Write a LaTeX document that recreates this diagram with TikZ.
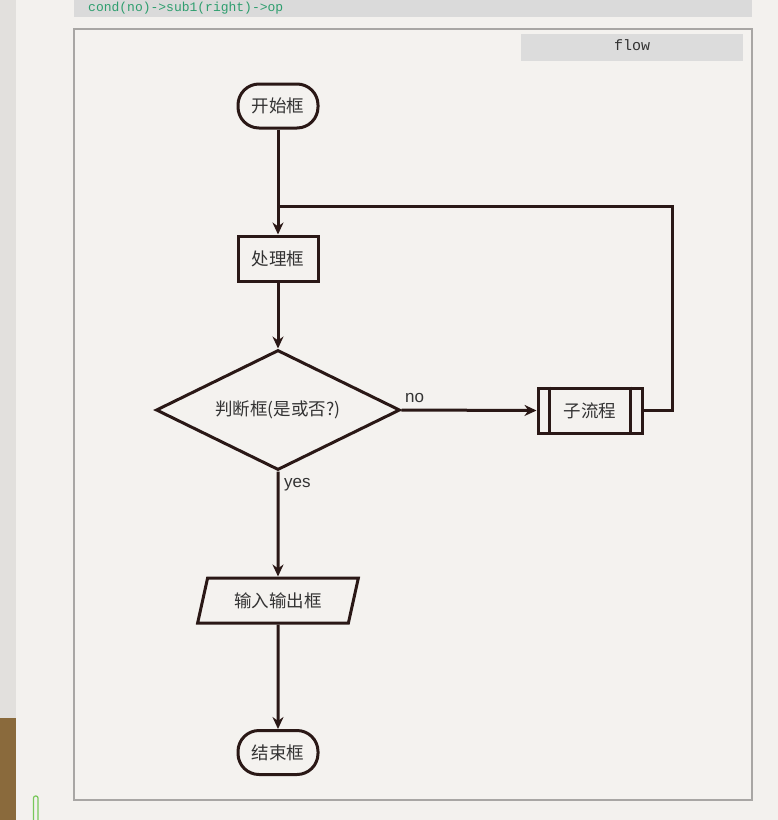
\documentclass[tikz,border=0pt]{standalone}
\usepackage{fontspec}
\setmainfont{Noto Sans CJK SC}
\newfontfamily\latinsans{Liberation Sans}
\setmonofont{Liberation Mono}
\usetikzlibrary{arrows.meta,shapes.geometric}
\definecolor{pagebg}{HTML}{F3F1EE}
\definecolor{panelbg}{HTML}{F4F2EF}
\definecolor{ink}{HTML}{2A1816}
\definecolor{txt}{HTML}{333333}
\definecolor{btn}{HTML}{DCDCDC}
\definecolor{codegreen}{HTML}{2E9E6E}
\definecolor{wood}{HTML}{8A6A3C}
\definecolor{sidebar}{HTML}{E2E0DD}
\definecolor{topbar}{HTML}{DADADA}
\definecolor{frame}{HTML}{A8A6A4}
\definecolor{lightgreen}{HTML}{78C85A}
\tikzset{
  shp/.style={draw=ink, line width=3pt, text=txt, font=\fontsize{17.5}{20}\selectfont, inner sep=0pt},
  term/.style={shp, rectangle, rounded corners=21pt, minimum width=80pt, minimum height=44pt},
  procbox/.style={shp, rectangle, minimum width=80pt, minimum height=45pt},
  decis/.style={shp, diamond, aspect=2.03, minimum width=244pt, minimum height=120pt},
  iobox/.style={shp, trapezium, trapezium left angle=69, trapezium right angle=111, trapezium stretches=true, minimum width=161pt, minimum height=45pt},
  subbox/.style={shp, rectangle, minimum width=104pt, minimum height=45pt},
  conn/.style={draw=ink, line width=3pt},
  arr/.style={conn, -{Stealth[length=12pt,width=11pt]}},
  lbl/.style={text=txt, font=\latinsans\fontsize{17}{19}\selectfont, inner sep=0pt}
}
\begin{document}
\begin{tikzpicture}[x=1pt,y=-1pt]
\useasboundingbox (0,0) rectangle (778,820);
% screenshot background
\fill[pagebg] (0,0) rectangle (778,820);
\fill[sidebar] (0,0) rectangle (16,718);
\fill[wood] (0,718) rectangle (16,820);
\fill[topbar] (74,0) rectangle (752,17);
\node[anchor=west, text=codegreen, font=\ttfamily\fontsize{13}{15}\selectfont, inner sep=0pt] (code) at (88,8) {cond(no)->sub1(right)->op};
\draw[lightgreen, line width=1.2pt, rounded corners=2pt] (33.5,821) -- (33.5,796) -- (38,796) -- (38,821);
% panel
\draw[fill=panelbg, draw=frame, line width=1.2pt] (74,29) rectangle (752,800);
\fill[btn] (521,34) rectangle (743,61);
\node[text=txt, font=\ttfamily\fontsize{15}{17}\selectfont, inner sep=0pt] (flowlbl) at (632,45) {flow};
% nodes
\node[term] (st) at (278,106) {开始框};
\node[procbox] (op) at (278,258.5) {处理框};
\node[decis] (cond) at (278,410) {判断框(是或否?)};
\node[subbox] (sub) at (590,410.5) {子流程};
\draw[conn] ([xshift=13pt]sub.north west) -- ([xshift=13pt]sub.south west);
\draw[conn] ([xshift=-13pt]sub.north east) -- ([xshift=-13pt]sub.south east);
\node[iobox] (io) at (278,600.5) {输入输出框};
\node[term] (e) at (278,752.5) {结束框};
% connectors
\coordinate (join) at (278,206);
\coordinate (loopc) at (672,206);
\draw[arr] (st) -- (op);
\draw[arr] (op) -- (cond);
\draw[arr] (cond.east) -- (sub.west);
\draw[conn, line join=miter] (sub.east) -| (loopc) -- (join);
\draw[arr] (cond.south) -- (io.north);
\draw[arr] (io) -- (e);
\node[lbl, anchor=west] (nolbl) at (405,398) {no};
\node[lbl, anchor=west] (yeslbl) at (284,485) {yes};
\end{tikzpicture}
\end{document}
